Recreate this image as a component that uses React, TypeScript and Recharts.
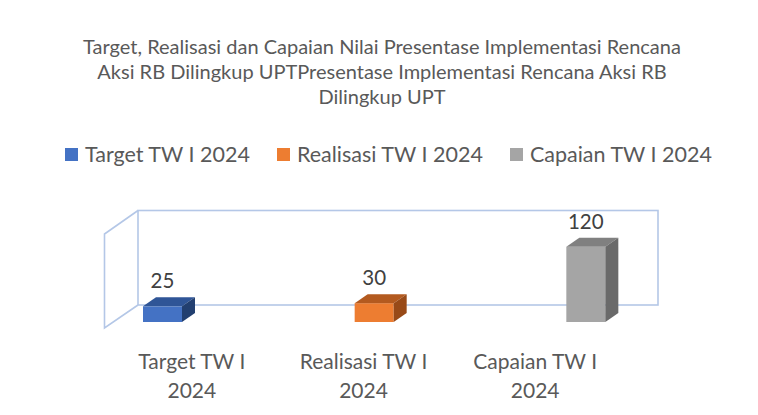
import React from "react";
import { BarChart, Bar, XAxis, YAxis, Cell } from "recharts";

const titleLines = [
  "Target, Realisasi dan Capaian Nilai Presentase Implementasi Rencana",
  "Aksi RB Dilingkup UPTPresentase Implementasi Rencana Aksi RB",
  "Dilingkup UPT",
];
const categories = ["Target TW I 2024", "Realisasi TW I 2024", "Capaian TW I 2024"];
const tickLines = [
  ["Target TW I", "2024"],
  ["Realisasi TW I", "2024"],
  ["Capaian TW I", "2024"],
];
const values = [25, 30, 120];
const frontColors = ["#4472C4", "#ED7D31", "#A5A5A5"];
const topColors = ["#2F5597", "#B35A1F", "#808080"];
const sideColors = ["#223F70", "#984A18", "#6A6A6A"];

const data = categories.map((name, i) => ({ name, value: values[i] }));

const FONT = "Lato, 'Open Sans', sans-serif";
const TEXT = "#595959";
const WALL = "#B4C7E7";
const DX = 13;
const DY = -9;

function Box3D(props: any) {
  const { x, y, width, height, index, value } = props;
  const r = x + width;
  const b = y + height;
  return (
    <g>
      <rect x={x} y={y} width={width} height={height} fill={frontColors[index]} />
      <polygon
        points={`${x},${y} ${x + DX},${y + DY} ${r + DX},${y + DY} ${r},${y}`}
        fill={topColors[index]}
      />
      <polygon
        points={`${r},${y} ${r + DX},${y + DY} ${r + DX},${b + DY} ${r},${b}`}
        fill={sideColors[index]}
      />
      <text
        x={x + width / 2}
        y={y + DY - 9}
        textAnchor="middle"
        fontFamily={FONT}
        fontSize={20.5}
        fill="#404040"
      >
        {value}
      </text>
    </g>
  );
}

function CatTick(props: any) {
  const { x, y, index } = props;
  const lines = tickLines[index] || [];
  return (
    <g>
      {lines.map((t, i) => (
        <text
          key={i}
          x={x}
          y={y + 9 + i * 29}
          textAnchor="middle"
          fontFamily={FONT}
          fontSize={21}
          fill={TEXT}
        >
          {t}
        </text>
      ))}
    </g>
  );
}

export default function App() {
  return (
    <div
      style={{
        position: "absolute",
        left: 0,
        top: 0,
        width: 758,
        height: 415,
        background: "#fff",
        fontFamily: FONT,
        overflow: "hidden",
      }}
    >
      <div
        style={{
          position: "absolute",
          left: 0,
          top: 34,
          width: 764,
          textAlign: "center",
          fontSize: 20,
          lineHeight: "25px",
          color: TEXT,
        }}
      >
        {titleLines.map((t, i) => (
          <div key={i}>{t}</div>
        ))}
      </div>

      <div
        style={{
          position: "absolute",
          left: 65,
          top: 140,
          display: "flex",
          alignItems: "center",
          fontSize: 21.5,
          lineHeight: "28px",
          color: TEXT,
          whiteSpace: "nowrap",
        }}
      >
        {categories.map((c, i) => (
          <div key={c} style={{ display: "flex", alignItems: "center", marginRight: 27 }}>
            <span
              style={{
                display: "inline-block",
                width: 13,
                height: 13,
                background: frontColors[i],
                marginRight: 7,
              }}
            />
            <span>{c}</span>
          </div>
        ))}
      </div>

      <svg width={758} height={415} style={{ position: "absolute", left: 0, top: 0 }}>
        <g fill="none" stroke={WALL} strokeWidth={1.6}>
          <rect x={138} y={210.5} width={520} height={94.5} />
          <polyline points="138,210.5 104.5,234 104.5,328 138,305" />
        </g>
      </svg>

      <div style={{ position: "absolute", left: 0, top: 0 }}>
        <BarChart
          width={758}
          height={415}
          data={data}
          margin={{ top: 228, right: 58, bottom: 63, left: 50 }}
        >
          <XAxis
            xAxisId="bars"
            dataKey="name"
            hide
            padding={{ left: 7, right: 8 }}
          />
          <XAxis
            xAxisId="labels"
            dataKey="name"
            height={30}
            axisLine={false}
            tickLine={false}
            interval={0}
            padding={{ left: 56, right: 79 }}
            tick={<CatTick />}
          />
          <YAxis hide domain={[0, 150]} />
          <Bar
            xAxisId="bars"
            dataKey="value"
            barSize={39}
            isAnimationActive={false}
            shape={<Box3D />}
          >
            {data.map((d, i) => (
              <Cell key={d.name} fill={frontColors[i]} />
            ))}
          </Bar>
        </BarChart>
      </div>
    </div>
  );
}
